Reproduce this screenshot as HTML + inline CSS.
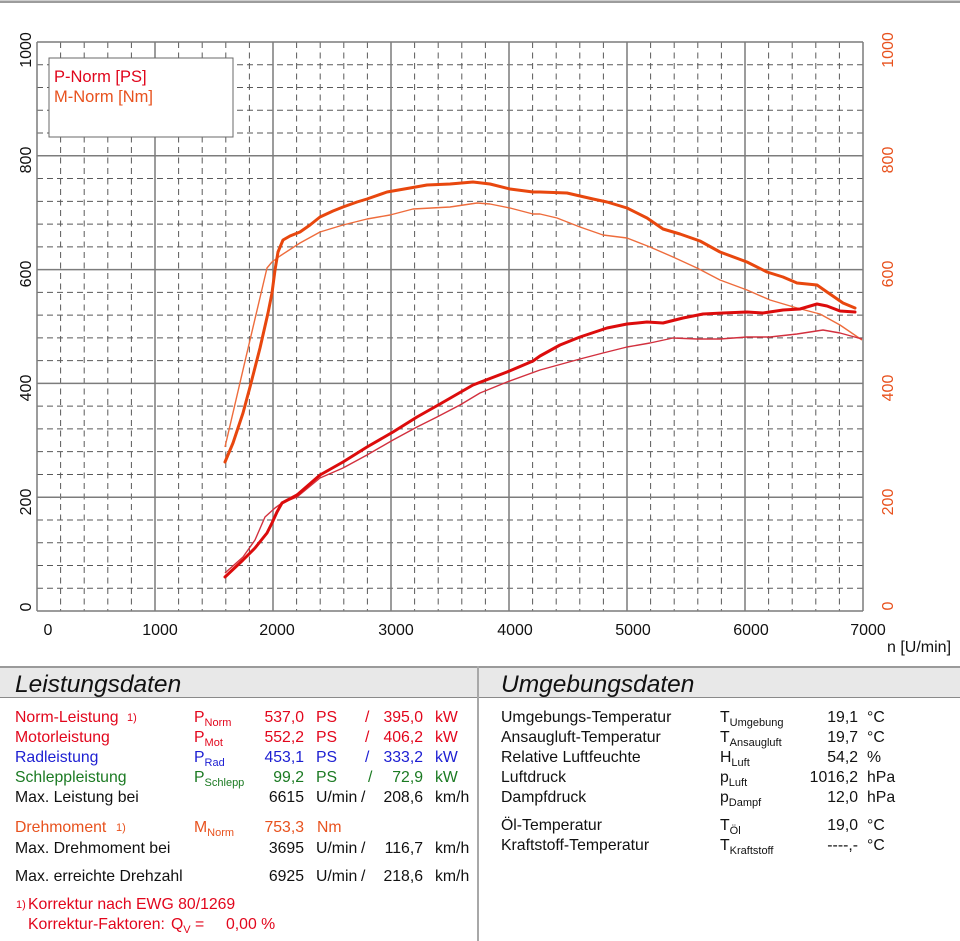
<!DOCTYPE html>
<html>
<head>
<meta charset="utf-8">
<style>
  html,body{margin:0;padding:0;background:#fff;}
  svg{display:block;}
  text{font-family:"Liberation Sans",Arial,sans-serif;}
</style>
</head>
<body>
<svg width="960" height="941" viewBox="0 0 960 941" xmlns="http://www.w3.org/2000/svg">
  <rect x="0" y="0" width="960" height="941" fill="#fff"/>
  <!-- top gray line -->
  <rect x="0" y="0.5" width="960" height="2.5" fill="#9c9c9c"/>

  <!-- minor grid vertical (dashed) -->
  <path stroke="#5a5a5a" stroke-width="1" stroke-dasharray="6 4.5" fill="none"
    d="M60.6 42V611 M84.2 42V611 M107.8 42V611 M131.4 42V611
       M178.6 42V611 M202.2 42V611 M225.8 42V611 M249.4 42V611
       M296.6 42V611 M320.2 42V611 M343.8 42V611 M367.4 42V611
       M414.6 42V611 M438.2 42V611 M461.8 42V611 M485.4 42V611
       M532.6 42V611 M556.2 42V611 M579.8 42V611 M603.4 42V611
       M650.6 42V611 M674.2 42V611 M697.8 42V611 M721.4 42V611
       M768.6 42V611 M792.2 42V611 M815.8 42V611 M839.4 42V611"/>
  <!-- minor grid horizontal (dashed) -->
  <path stroke="#5a5a5a" stroke-width="1" stroke-dasharray="6 4" fill="none"
    d="M37 588.24H863 M37 565.48H863 M37 542.72H863 M37 519.96H863
       M37 474.44H863 M37 451.68H863 M37 428.92H863 M37 406.16H863
       M37 360.64H863 M37 337.88H863 M37 315.12H863 M37 292.36H863
       M37 246.84H863 M37 224.08H863 M37 201.32H863 M37 178.56H863
       M37 133.04H863 M37 110.28H863 M37 87.52H863 M37 64.76H863"/>
  <!-- major grid -->
  <path stroke="#7c7c7c" stroke-width="1.5" fill="none"
    d="M37 42V611 M155 42V611 M273 42V611 M391 42V611 M509 42V611 M627 42V611 M745 42V611 M863 42V611
       M37 42H863 M37 155.8H863 M37 269.6H863 M37 383.4H863 M37 497.2H863 M37 611H863"/>

  <!-- legend box -->
  <rect x="49" y="58" width="184" height="79" fill="#fff" stroke="#6a6a6a" stroke-width="1"/>
  <text x="54" y="82" font-size="16.5" fill="#e0061c">P-Norm [PS]</text>
  <text x="54" y="102" font-size="16.5" fill="#e8521e">M-Norm [Nm]</text>

  <!-- curves -->
  <!-- thin torque -->
  <polyline fill="none" stroke="#ee6c3c" stroke-width="1.4" stroke-linejoin="round"
    points="225,447 246,357 267,268 272,262 280,256 300,243 320,232 343,225 367,219 390,215 413,209 450,207 477,203 490,204 510,208 533,214 540,214 557,218 580,227 603,235 627,238 650,247 673,257 697,268 720,280 747,290 770,300 797,308 820,314 840,325 862,340"/>
  <!-- thin power -->
  <polyline fill="none" stroke="#d2303e" stroke-width="1.4" stroke-linejoin="round"
    points="225,573 243,557 255,540 265,517 275,508 282,503 297,497 320,478 343,468 367,455 393,440 417,427 437,417 460,405 480,393 507,382 540,370 580,359 603,353 627,347 650,343 673,338 697,339 720,339 747,337 770,337 797,334 823,330 840,333 862,339"/>
  <!-- thick torque -->
  <polyline fill="none" stroke="#e8470e" stroke-width="3" stroke-linejoin="round" stroke-linecap="round"
    points="225,462 233,443 243,413 250,387 260,348 268,313 272,293 275,270 278,252 283,240 290,236 300,232 310,225 320,217 333,211 343,207 357,202 367,199 387,192 410,188 427,185 450,184 473,182 490,184 510,189 533,192 540,192 567,193 593,199 607,202 627,208 647,218 663,229 680,234 700,241 720,252 747,262 767,272 783,277 797,283 817,285 827,292 843,303 855,308"/>
  <!-- thick power -->
  <polyline fill="none" stroke="#dc0c0c" stroke-width="3" stroke-linejoin="round" stroke-linecap="round"
    points="225,577 243,560 255,548 267,533 272,523 277,512 282,503 297,495 320,475 343,462 367,447 393,432 417,417 440,404 473,385 507,372 533,361 540,356 560,345 580,337 607,328 627,324 647,322 663,323 683,318 703,314 723,313 747,312 763,313 783,310 800,309 817,304 827,306 840,311 855,312"/>

  <!-- left axis labels -->
  <g font-size="16" fill="#111" text-anchor="middle">
    <text transform="translate(31,50) rotate(-90)">1000</text>
    <text transform="translate(31,160) rotate(-90)">800</text>
    <text transform="translate(31,274) rotate(-90)">600</text>
    <text transform="translate(31,388) rotate(-90)">400</text>
    <text transform="translate(31,502) rotate(-90)">200</text>
    <text transform="translate(31,607) rotate(-90)">0</text>
  </g>
  <!-- right axis labels -->
  <g font-size="16" fill="#e8521e" text-anchor="middle">
    <text transform="translate(893,50) rotate(-90)">1000</text>
    <text transform="translate(893,160) rotate(-90)">800</text>
    <text transform="translate(893,274) rotate(-90)">600</text>
    <text transform="translate(893,388) rotate(-90)">400</text>
    <text transform="translate(893,502) rotate(-90)">200</text>
    <text transform="translate(893,606) rotate(-90)">0</text>
  </g>
  <!-- x axis labels -->
  <g font-size="16" fill="#111" text-anchor="middle">
    <text x="48" y="635">0</text>
    <text x="160" y="635">1000</text>
    <text x="277" y="635">2000</text>
    <text x="396" y="635">3000</text>
    <text x="515" y="635">4000</text>
    <text x="633" y="635">5000</text>
    <text x="751" y="635">6000</text>
    <text x="868" y="635">7000</text>
  </g>
  <text x="887" y="652" font-size="16" fill="#111">n [U/min]</text>

  <!-- table header band -->
  <rect x="0" y="667" width="960" height="30" fill="#e8e8e8"/>
  <rect x="0" y="666" width="960" height="2" fill="#9a9a9a"/>
  <rect x="0" y="697" width="960" height="1" fill="#8a8a8a"/>
  <rect x="477" y="666" width="2" height="275" fill="#a8a8a8"/>
  <text x="15" y="692" font-size="24.5" font-style="italic" fill="#111">Leistungsdaten</text>
  <text x="501" y="692" font-size="24.5" font-style="italic" fill="#111">Umgebungsdaten</text>

  <!-- left table -->
  <g font-size="15.8">
    <g fill="#e2061c">
      <text x="15" y="722">Norm-Leistung</text>
      <text x="127" y="721" font-size="11">1)</text>
      <text x="194" y="722">P<tspan font-size="11" dy="4">Norm</tspan></text>
      <text x="304" y="722" text-anchor="end">537,0</text>
      <text x="316" y="722">PS</text>
      <text x="365" y="722">/</text>
      <text x="423" y="722" text-anchor="end">395,0</text>
      <text x="435" y="722">kW</text>

      <text x="15" y="742">Motorleistung</text>
      <text x="194" y="742">P<tspan font-size="11" dy="4">Mot</tspan></text>
      <text x="304" y="742" text-anchor="end">552,2</text>
      <text x="316" y="742">PS</text>
      <text x="365" y="742">/</text>
      <text x="423" y="742" text-anchor="end">406,2</text>
      <text x="435" y="742">kW</text>
    </g>
    <g fill="#1c1ed2">
      <text x="15" y="762">Radleistung</text>
      <text x="194" y="762">P<tspan font-size="11" dy="4">Rad</tspan></text>
      <text x="304" y="762" text-anchor="end">453,1</text>
      <text x="316" y="762">PS</text>
      <text x="365" y="762">/</text>
      <text x="423" y="762" text-anchor="end">333,2</text>
      <text x="435" y="762">kW</text>
    </g>
    <g fill="#1b7a22">
      <text x="15" y="782">Schleppleistung</text>
      <text x="194" y="782">P<tspan font-size="11" dy="4">Schlepp</tspan></text>
      <text x="304" y="782" text-anchor="end">99,2</text>
      <text x="316" y="782">PS</text>
      <text x="368" y="782">/</text>
      <text x="423" y="782" text-anchor="end">72,9</text>
      <text x="435" y="782">kW</text>
    </g>
    <g fill="#111">
      <text x="15" y="802">Max. Leistung bei</text>
      <text x="304" y="802" text-anchor="end">6615</text>
      <text x="316" y="802">U/min</text>
      <text x="361" y="802">/</text>
      <text x="423" y="802" text-anchor="end">208,6</text>
      <text x="435" y="802">km/h</text>
    </g>
    <g fill="#e8521e">
      <text x="15" y="832">Drehmoment</text>
      <text x="116" y="831" font-size="11">1)</text>
      <text x="194" y="832">M<tspan font-size="11" dy="4">Norm</tspan></text>
      <text x="304" y="832" text-anchor="end">753,3</text>
      <text x="317" y="832">Nm</text>
    </g>
    <g fill="#111">
      <text x="15" y="853">Max. Drehmoment bei</text>
      <text x="304" y="853" text-anchor="end">3695</text>
      <text x="316" y="853">U/min</text>
      <text x="361" y="853">/</text>
      <text x="423" y="853" text-anchor="end">116,7</text>
      <text x="435" y="853">km/h</text>

      <text x="15" y="881">Max. erreichte Drehzahl</text>
      <text x="304" y="881" text-anchor="end">6925</text>
      <text x="316" y="881">U/min</text>
      <text x="361" y="881">/</text>
      <text x="423" y="881" text-anchor="end">218,6</text>
      <text x="435" y="881">km/h</text>
    </g>
    <g fill="#e2061c">
      <text x="16" y="908" font-size="11">1)</text>
      <text x="28" y="909">Korrektur nach EWG 80/1269</text>
      <text x="28" y="929">Korrektur-Faktoren:</text>
      <text x="171" y="929">Q<tspan font-size="11" dy="4">V</tspan></text>
      <text x="195" y="929">=</text>
      <text x="226" y="929">0,00 %</text>
    </g>
  </g>

  <!-- right table -->
  <g font-size="15.8" fill="#111">
    <text x="501" y="722">Umgebungs-Temperatur</text>
    <text x="720" y="722">T<tspan font-size="11" dy="4">Umgebung</tspan></text>
    <text x="858" y="722" text-anchor="end">19,1</text>
    <text x="867" y="722">°C</text>

    <text x="501" y="742">Ansaugluft-Temperatur</text>
    <text x="720" y="742">T<tspan font-size="11" dy="4">Ansaugluft</tspan></text>
    <text x="858" y="742" text-anchor="end">19,7</text>
    <text x="867" y="742">°C</text>

    <text x="501" y="762">Relative Luftfeuchte</text>
    <text x="720" y="762">H<tspan font-size="11" dy="4">Luft</tspan></text>
    <text x="858" y="762" text-anchor="end">54,2</text>
    <text x="867" y="762">%</text>

    <text x="501" y="782">Luftdruck</text>
    <text x="720" y="782">p<tspan font-size="11" dy="4">Luft</tspan></text>
    <text x="858" y="782" text-anchor="end">1016,2</text>
    <text x="867" y="782">hPa</text>

    <text x="501" y="802">Dampfdruck</text>
    <text x="720" y="802">p<tspan font-size="11" dy="4">Dampf</tspan></text>
    <text x="858" y="802" text-anchor="end">12,0</text>
    <text x="867" y="802">hPa</text>

    <text x="501" y="830">Öl-Temperatur</text>
    <text x="720" y="830">T<tspan font-size="11" dy="4">Öl</tspan></text>
    <text x="858" y="830" text-anchor="end">19,0</text>
    <text x="867" y="830">°C</text>

    <text x="501" y="850">Kraftstoff-Temperatur</text>
    <text x="720" y="850">T<tspan font-size="11" dy="4">Kraftstoff</tspan></text>
    <text x="858" y="850" text-anchor="end">----,-</text>
    <text x="867" y="850">°C</text>
  </g>
</svg>
</body>
</html>
